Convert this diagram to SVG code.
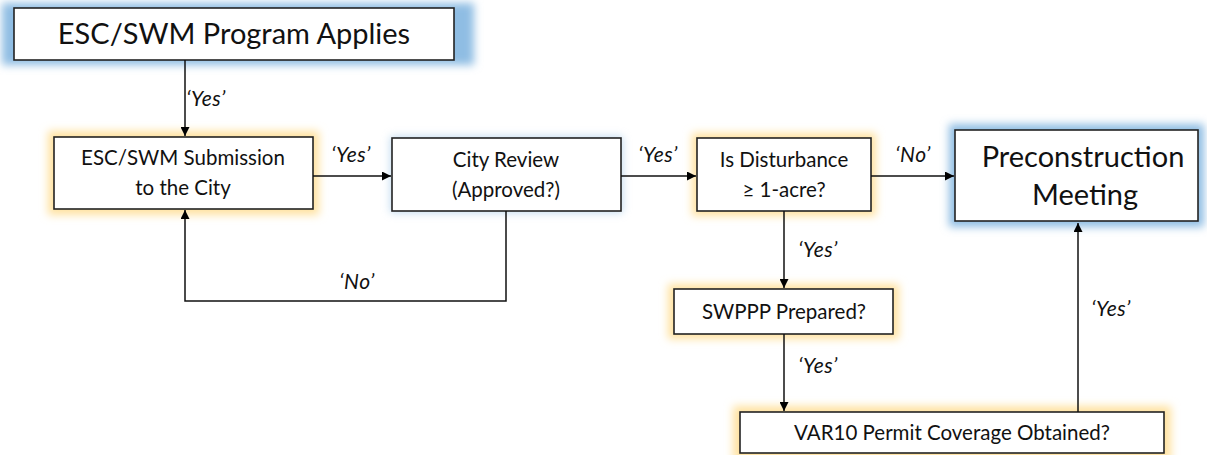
<svg xmlns="http://www.w3.org/2000/svg" width="1207" height="455" viewBox="0 0 1207 455">
<defs>
<filter id="blur" x="-20%" y="-50%" width="140%" height="200%"><feGaussianBlur stdDeviation="4"/></filter>
<marker id="arr" viewBox="0 0 10 10" refX="10" refY="5" markerWidth="9" markerHeight="9" markerUnits="userSpaceOnUse" orient="auto"><path d="M0,0 L10,5 L0,10 z" fill="#000"/></marker>
<style>
.box{fill:#fff;stroke:#222;stroke-width:1.6}
.gb{fill:#8fbde3;filter:url(#blur)}
.go{fill:#ffe2a0;filter:url(#blur)}
.t{font-family:Lato,"Liberation Sans",sans-serif;fill:#111;text-anchor:middle}
.lbl{font-family:Lato,"Liberation Sans",sans-serif;font-style:italic;fill:#111;font-size:21px;letter-spacing:0.5px;text-anchor:middle}
.c{fill:none;stroke:#111;stroke-width:1.5}
</style>
</defs>
<g id="n1">
<rect class="gb" x="2" y="3" width="472" height="62"/>
<rect class="box" x="14" y="8" width="440" height="52"/>
<text class="t" x="234" y="44" font-size="29">ESC/SWM Program Applies</text>
</g>
<g id="n2">
<rect class="go" x="48" y="131" width="271" height="84"/>
<rect class="box" x="54" y="137" width="259" height="72"/>
<text class="t" x="183" y="165" font-size="20.5">ESC/SWM Submission</text>
<text class="t" x="183" y="195" font-size="20.5">to the City</text>
</g>
<g id="n3">
<rect class="gb" x="390" y="136" width="233" height="77" opacity="0.5"/>
<rect class="box" x="392" y="138" width="229" height="73"/>
<text class="t" x="506" y="167" font-size="20.5">City Review</text>
<text class="t" x="506" y="197" font-size="20.5">(Approved?)</text>
</g>
<g id="n4">
<rect class="go" x="692" y="133" width="184" height="83"/>
<rect class="box" x="697" y="138" width="174" height="73"/>
<text class="t" x="784" y="167" font-size="20.5">Is Disturbance</text>
<text class="t" x="784" y="197" font-size="20.5">≥ 1-acre?</text>
</g>
<g id="n5">
<rect class="gb" x="949" y="124" width="255" height="103"/>
<rect class="box" x="955" y="130" width="243" height="91"/>
<text class="t" x="1083" y="167" font-size="29">Preconstruction</text>
<text class="t" x="1085" y="205" font-size="29">Meeting</text>
</g>
<g id="n6">
<rect class="go" x="668" y="284" width="231" height="55"/>
<rect class="box" x="674" y="289" width="219" height="45"/>
<text class="t" x="784" y="319" font-size="20.5">SWPPP Prepared?</text>
</g>
<g id="n7">
<rect class="go" x="733" y="406" width="438" height="55"/>
<rect class="box" x="740" y="412" width="424" height="41"/>
<text class="t" x="952" y="440" font-size="20.5">VAR10 Permit Coverage Obtained?</text>
</g>
<g id="connectors">
<path class="c" d="M185,60 V136" marker-end="url(#arr)"/>
<path class="c" d="M313,176 H391" marker-end="url(#arr)"/>
<path class="c" d="M621,176 H696" marker-end="url(#arr)"/>
<path class="c" d="M871,176 H954" marker-end="url(#arr)"/>
<path class="c" d="M506,211 V301 H185 V210" marker-end="url(#arr)"/>
<path class="c" d="M784,211 V288" marker-end="url(#arr)"/>
<path class="c" d="M784,334 V411" marker-end="url(#arr)"/>
<path class="c" d="M1078,412 V223" marker-end="url(#arr)"/>
<text class="lbl" x="206" y="106">‘Yes’</text>
<text class="lbl" x="351" y="162">‘Yes’</text>
<text class="lbl" x="658" y="162">‘Yes’</text>
<text class="lbl" x="913" y="162">‘No’</text>
<text class="lbl" x="357" y="289">‘No’</text>
<text class="lbl" x="818" y="257">‘Yes’</text>
<text class="lbl" x="818" y="373">‘Yes’</text>
<text class="lbl" x="1111" y="316">‘Yes’</text>
</g>
</svg>
